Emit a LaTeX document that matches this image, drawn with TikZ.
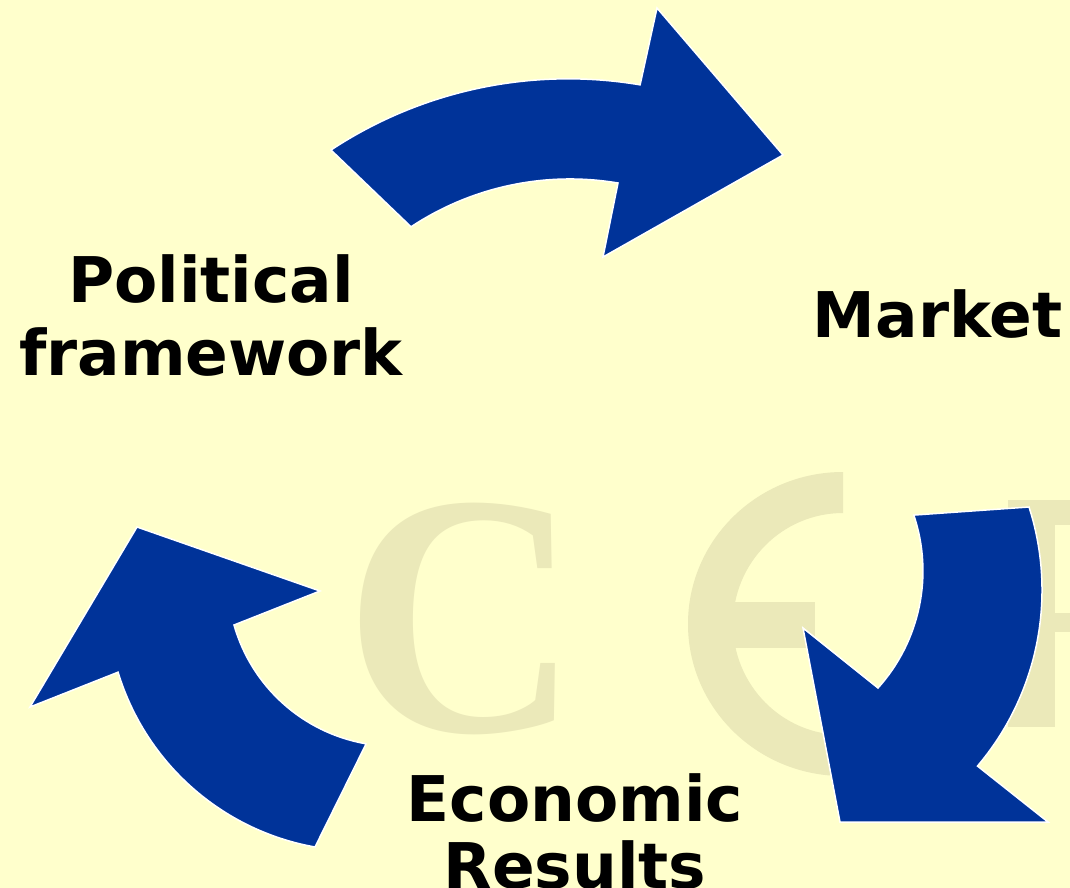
\documentclass[tikz,border=0pt]{standalone}
\usepackage{fontspec}
\setmainfont{DejaVu Sans}
\newfontfamily\wmfont{Liberation Serif}
\definecolor{bg}{HTML}{FFFFCC}
\definecolor{arrowblue}{HTML}{003399}
\definecolor{wm}{HTML}{EBE9B9}
\tikzset{
  bigarrow/.style={fill=arrowblue, draw=white, line width=1.5pt, line join=miter},
  lbl/.style={font=\fontsize{63}{73}\selectfont\bfseries, text=black, inner sep=0pt, anchor=base},
  wmark/.style={fill=wm}
}
\begin{document}
\begin{tikzpicture}[x=1pt,y=-1pt]
\useasboundingbox (0,0) rectangle (1070,888);
\fill[bg] (0,0) rectangle (1070,888);
% watermark
\node[anchor=base west, inner sep=0pt, text=wm, xscale=0.946, font=\wmfont\bfseries\fontsize{345}{345}\selectfont] (wmC) at (344,731) {C};
\fill[wmark] (843,472) arc[start angle=-90, end angle=-270, x radius=155, y radius=152] -- (843,735) arc[start angle=90, end angle=270, x radius=110, y radius=111] -- cycle;
\fill[wmark] (730,602) rectangle (815,648);
\fill[wmark] (1008,500) rectangle (1055,727);
\fill[wmark] (1008,500) rectangle (1070,525);
\fill[wmark] (1055,613) rectangle (1070,632);
% arrows
\draw[bigarrow] (331,150) arc[start angle=-123.4, end angle=-80.4, radius=431] -- (657,8) -- (783,155) -- (603,257) -- (618,183) arc[start angle=-80.4, end angle=-123.5, radius=288] -- cycle;
\draw[bigarrow] (1029,507) arc[start angle=-17.8, end angle=40.3, radius=272] -- (1048,822) -- (840,822) -- (803,628) -- (878,688) arc[start angle=42, end angle=-18.6, radius=175] -- cycle;
\draw[bigarrow] (366,744) -- (315,847) arc[start angle=100.1, end angle=163.1, radius=252] -- (30,707) -- (137,527) -- (320,591) -- (234,625) arc[start angle=164.1, end angle=100, radius=167] -- cycle;
% labels
\node[lbl] (pol) at (211,302) {Political};
\node[lbl] (fw) at (211,375) {framework};
\node[lbl] (mkt) at (937.5,337) {Market};
\node[lbl] (eco) at (575,821) {Economic};
\node[lbl] (res) at (575,888) {Results};
\end{tikzpicture}
\end{document}
